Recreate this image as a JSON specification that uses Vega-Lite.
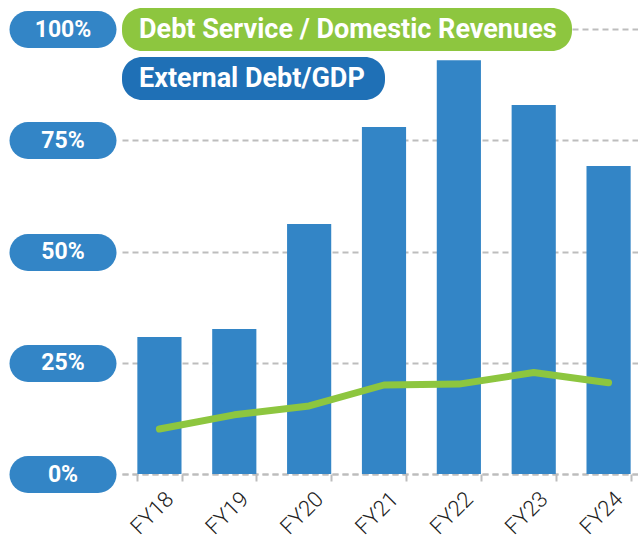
{
  "$schema": "https://vega.github.io/schema/vega-lite/v6.json",
  "width": 516,
  "height": 445,
  "autosize": {"type": "none"},
  "padding": {"left": 122, "top": 29, "right": 0, "bottom": 63},
  "background": "white",
  "config": {"view": {"stroke": null}},
  "data": {
    "values": [
      {"year": "FY18", "measure": "External Debt/GDP", "value": 30.8},
      {"year": "FY19", "measure": "External Debt/GDP", "value": 32.6},
      {"year": "FY20", "measure": "External Debt/GDP", "value": 56.2},
      {"year": "FY21", "measure": "External Debt/GDP", "value": 78.0},
      {"year": "FY22", "measure": "External Debt/GDP", "value": 93.0},
      {"year": "FY23", "measure": "External Debt/GDP", "value": 82.9},
      {"year": "FY24", "measure": "External Debt/GDP", "value": 69.2},
      {"year": "FY18", "measure": "Debt Service / Domestic Revenues", "value": 10.1},
      {"year": "FY19", "measure": "Debt Service / Domestic Revenues", "value": 13.3},
      {"year": "FY20", "measure": "Debt Service / Domestic Revenues", "value": 15.3},
      {"year": "FY21", "measure": "Debt Service / Domestic Revenues", "value": 20.0},
      {"year": "FY22", "measure": "Debt Service / Domestic Revenues", "value": 20.2},
      {"year": "FY23", "measure": "Debt Service / Domestic Revenues", "value": 22.8},
      {"year": "FY24", "measure": "Debt Service / Domestic Revenues", "value": 20.5}
    ]
  },
  "encoding": {
    "x": {
      "field": "year",
      "type": "nominal",
      "sort": null,
      "scale": {"range": [0, 524], "paddingInner": 0.41, "paddingOuter": 0.205},
      "axis": {
        "title": null,
        "labelAngle": -45,
        "labelFont": "Roboto",
        "labelFontSize": 22,
        "labelFontWeight": 300,
        "labelColor": "#222222",
        "labelPadding": 7,
        "labelOffset": 3,
        "tickBand": "extent",
        "tickColor": "#bdbdbd",
        "tickSize": 7,
        "tickWidth": 2,
        "domainColor": "#bdbdbd",
        "domainWidth": 2,
        "domainDash": [6, 4]
      }
    },
    "y": {
      "field": "value",
      "type": "quantitative",
      "scale": {"domain": [0, 100], "nice": false},
      "axis": {
        "title": null,
        "values": [0, 25, 50, 75, 100],
        "labelExpr": "datum.value + '%'",
        "domain": false,
        "offset": 24.5,
        "ticks": true,
        "tickSize": 70,
        "tickWidth": 37,
        "tickCap": "round",
        "tickColor": "#3385c6",
        "labelAlign": "center",
        "labelBaseline": "middle",
        "labelPadding": -35,
        "labelColor": "white",
        "labelFont": "Roboto",
        "labelFontSize": 23,
        "labelFontWeight": "bold",
        "grid": true,
        "gridColor": "#bdbdbd",
        "gridWidth": 2,
        "gridDash": [6, 4]
      }
    }
  },
  "layer": [
    {
      "transform": [{"filter": "datum.measure == 'External Debt/GDP'"}],
      "mark": {"type": "bar"},
      "encoding": {
        "fill": {
          "field": "measure",
          "type": "nominal",
          "scale": {"range": ["#3385c6"]},
          "legend": {
            "orient": "none",
            "legendX": 0,
            "legendY": 28,
            "title": null,
            "fillColor": "#1f70b6",
            "cornerRadius": 20,
            "padding": 8,
            "symbolType": "circle",
            "symbolOpacity": 0,
            "symbolStrokeWidth": 0,
            "symbolSize": 64,
            "symbolOffset": 229.5,
            "labelOffset": -247.5,
            "labelLimit": 0,
            "labelColor": "white",
            "labelFont": "Roboto",
            "labelFontSize": 27,
            "labelFontWeight": "bold"
          }
        }
      }
    },
    {
      "transform": [{"filter": "datum.measure == 'Debt Service / Domestic Revenues'"}],
      "mark": {"type": "line", "strokeWidth": 7, "strokeCap": "round", "strokeJoin": "round"},
      "encoding": {
        "stroke": {
          "field": "measure",
          "type": "nominal",
          "scale": {"range": ["#8dc63f"]},
          "legend": {
            "orient": "none",
            "legendX": 0,
            "legendY": -21,
            "title": null,
            "fillColor": "#8dc63f",
            "cornerRadius": 20,
            "padding": 8,
            "symbolType": "circle",
            "symbolOpacity": 0,
            "symbolStrokeWidth": 0,
            "symbolSize": 64,
            "symbolOffset": 416.5,
            "labelOffset": -434.5,
            "labelLimit": 0,
            "labelColor": "white",
            "labelFont": "Roboto",
            "labelFontSize": 27,
            "labelFontWeight": "bold"
          }
        }
      }
    }
  ]
}
